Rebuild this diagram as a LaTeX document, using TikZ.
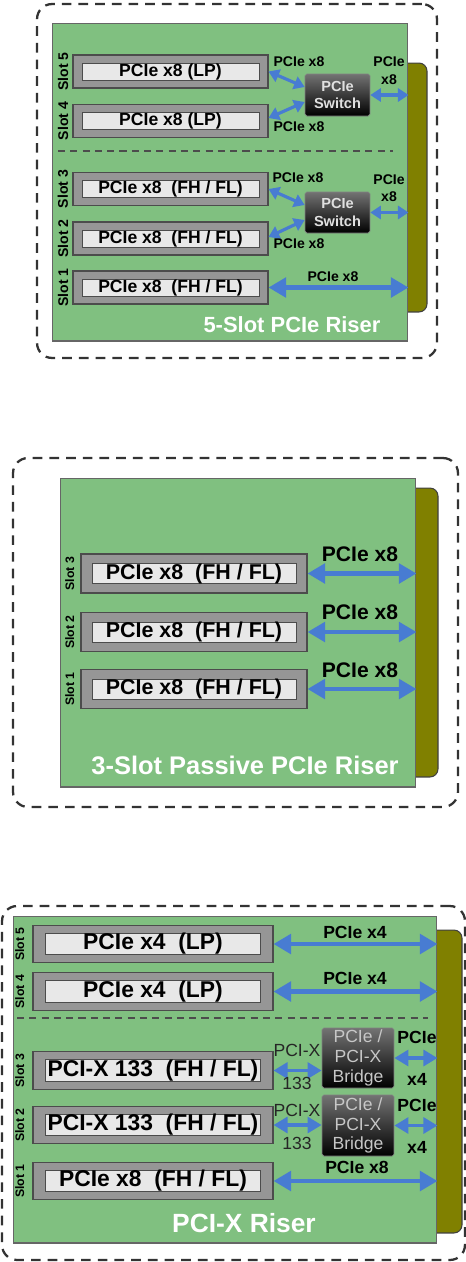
\documentclass[tikz,border=0pt]{standalone}
\usepackage{fontspec}
\setmainfont{Liberation Sans}
\usepackage{xcolor}
\usetikzlibrary{arrows.meta, positioning, calc}

\definecolor{boardgreen}{RGB}{128,192,128}
\definecolor{connolive}{RGB}{128,128,0}
\definecolor{linkblue}{RGB}{72,124,210}
\definecolor{slotgray}{RGB}{150,150,150}
\definecolor{cardgray}{RGB}{232,232,232}

\begin{document}
\begin{tikzpicture}[x=0.02cm, y=-0.02cm,
    frame/.style={draw=black!80, line width=1.3pt, dash pattern=on 5.5pt off 4pt, rounded corners=0.3cm, inner sep=0pt},
    board/.style={draw=black!60, fill=boardgreen, line width=0.6pt, inner sep=0pt},
    conn/.style={draw=black!75, fill=connolive, line width=0.6pt, rounded corners=0.16cm, inner sep=0pt},
    slotbox/.style={draw=black!70, fill=slotgray, line width=0.6pt, inner sep=0pt},
    card/.style={draw=black!70, fill=cardgray, line width=0.5pt, inner sep=0pt},
    slotlbl/.style={rotate=90, anchor=south, inner sep=0pt},
    chip/.style={draw=black!50, top color=black!55, middle color=black!88, bottom color=black, inner sep=0pt, align=center, text=black!12, rounded corners=1pt},
    link/.style={draw=linkblue, line width=2.5pt, {Triangle[width=11pt,length=10pt]}-{Triangle[width=11pt,length=10pt]}},
    midlink/.style={draw=linkblue, line width=2.2pt, {Triangle[width=9pt,length=8pt]}-{Triangle[width=9pt,length=8pt]}},
    minilink/.style={draw=linkblue, line width=1.8pt, {Triangle[width=7.5pt,length=6pt]}-{Triangle[width=7.5pt,length=6pt]}},
    lbl/.style={inner sep=0pt, align=center},
    title/.style={inner sep=0pt, text=white},
    sep/.style={draw=black!70, line width=0.7pt, dash pattern=on 4pt off 3pt}]
    \useasboundingbox (0,0) rectangle (466,1262);

    % 5-Slot PCIe riser
    \node[frame, minimum width=8cm, minimum height=7.08cm] (fr1) at (237,181) {};
    \node[conn, minimum width=0.64cm, minimum height=4.98cm] (cn1) at (411,187.5) {};
    \node[board, minimum width=7.12cm, minimum height=6.36cm] (bd1) at (230,182) {};
    \foreach \n/\y/\t in {5/71.5/{PCIe x8 (LP)}, 4/121/{PCIe x8 (LP)}, 3/189/{PCIe x8\ \ (FH / FL)},
                          2/238.5/{PCIe x8\ \ (FH / FL)}, 1/287.5/{PCIe x8\ \ (FH / FL)}} {
        \node[slotbox, minimum width=3.9cm, minimum height=0.66cm] (a\n) at (170.5,\y) {};
        \node[card, minimum width=3.54cm, minimum height=0.34cm, font=\bfseries\fontsize{10}{10}\selectfont] (a\n-card) at (a\n) {\t};
        \node[slotlbl, font=\bfseries\fontsize{8}{8}\selectfont] (a\n-lbl) at ([xshift=-0.08cm]a\n.west) {Slot \n};
    }
    \draw[sep] (58,151) -- (393,151);

    \node[chip, minimum width=1.3cm, minimum height=0.84cm, font=\bfseries\fontsize{8.3}{9.8}\selectfont] (sw1) at (337.5,95) {PCIe\\Switch};
    \node[chip, minimum width=1.3cm, minimum height=0.82cm, font=\bfseries\fontsize{8.3}{9.8}\selectfont] (sw2) at (337.5,212.5) {PCIe\\Switch};

    \draw[minilink] (a5.east) -- ([yshift=0.16cm]sw1.west);
    \draw[minilink] ([yshift=0.06cm]a4.east) -- ([yshift=-0.14cm]sw1.west);
    \draw[minilink] (sw1.east) -- (sw1.east -| bd1.east);
    \draw[minilink] (a3.east) -- ([yshift=0.15cm]sw2.west);
    \draw[minilink] ([yshift=0.03cm]a2.east) -- ([yshift=-0.15cm]sw2.west);
    \draw[minilink] (sw2.east) -- (sw2.east -| bd1.east);
    \draw[link] (a1.east) -- (a1.east -| bd1.east);

    \node[lbl, font=\bfseries\fontsize{8}{8}\selectfont] (l51) at (299,62) {PCIe x8};
    \node[lbl, font=\bfseries\fontsize{8}{8}\selectfont] (l41) at (299,127) {PCIe x8};
    \node[lbl, font=\bfseries\fontsize{8}{10.2}\selectfont] (l11) at (389,71) {PCIe\\x8};
    \node[lbl, font=\bfseries\fontsize{8}{8}\selectfont] (l31) at (298,178) {PCIe x8};
    \node[lbl, font=\bfseries\fontsize{8}{8}\selectfont] (l21) at (299,244) {PCIe x8};
    \node[lbl, font=\bfseries\fontsize{8}{9.6}\selectfont] (l12) at (389,188.5) {PCIe\\x8};
    \node[lbl, font=\bfseries\fontsize{8}{8}\selectfont] (l01) at (333,277) {PCIe x8};
    \node[title, font=\bfseries\fontsize{12.5}{12.5}\selectfont] (t1) at (292,325) {5-Slot PCIe Riser};

    % 3-Slot passive riser
    \node[frame, minimum width=8.9cm, minimum height=6.98cm] (fr2) at (235.5,632.5) {};
    \node[conn, minimum width=0.64cm, minimum height=5.78cm] (cn2) at (422,632.5) {};
    \node[board, minimum width=7.12cm, minimum height=6.18cm] (bd2) at (238,632.5) {};
    \foreach \n/\y/\ly in {3/573.5/554, 2/632/612, 1/689/670} {
        \node[slotbox, minimum width=4.52cm, minimum height=0.78cm] (b\n) at (194,\y) {};
        \node[card, minimum width=4.08cm, minimum height=0.38cm, font=\bfseries\fontsize{12.2}{12.2}\selectfont] (b\n-card) at (b\n) {PCIe x8\ \ (FH / FL)};
        \node[slotlbl, font=\bfseries\fontsize{7}{7}\selectfont] (b\n-lbl) at ([xshift=-0.12cm]b\n.west) {Slot \n};
        \draw[link] (b\n.east) -- (b\n.east -| bd2.east);
        \node[lbl, font=\bfseries\fontsize{12}{12}\selectfont] (b\n-link) at (360,\ly) {PCIe x8};
    }
    \node[title, font=\bfseries\fontsize{14.5}{14.5}\selectfont] (t2) at (245,765) {3-Slot Passive PCIe Riser};

    % PCI-X riser
    \node[frame, minimum width=9.26cm, minimum height=7.08cm] (fr3) at (233.5,1083) {};
    \node[conn, minimum width=0.7cm, minimum height=6.06cm] (cn3) at (444.5,1081.5) {};
    \node[board, minimum width=8.48cm, minimum height=6.54cm] (bd3) at (225,1079.5) {};
    \foreach \n/\y/\t in {5/944/{PCIe x4\ \ (LP)}, 4/991.5/{PCIe x4\ \ (LP)}, 3/1070.5/{PCI-X 133\ \ (FH / FL)},
                          2/1125/{PCI-X 133\ \ (FH / FL)}, 1/1181/{PCIe x8\ \ (FH / FL)}} {
        \node[slotbox, minimum width=4.8cm, minimum height=0.75cm] (c\n) at (153,\y) {};
        \node[card, minimum width=4.3cm, minimum height=0.36cm, font=\bfseries\fontsize{13}{13}\selectfont] (c\n-card) at (c\n) {\t};
        \node[slotlbl, font=\bfseries\fontsize{7}{7}\selectfont] (c\n-lbl) at ([xshift=-0.16cm]c\n.west) {Slot \n};
    }
    \draw[sep] (17,1018) -- (428,1018);

    \node[chip, minimum width=1.44cm, minimum height=1.2cm, font=\fontsize{10}{11.3}\selectfont, text=black!22] (br1) at (358,1058) {PCIe /\\PCI-X\\Bridge};
    \node[chip, minimum width=1.44cm, minimum height=1.22cm, font=\fontsize{10}{11.3}\selectfont, text=black!22] (br2) at (358,1125.5) {PCIe /\\PCI-X\\Bridge};

    \draw[link] (c5.east) -- (c5.east -| bd3.east);
    \draw[link] (c4.east) -- (c4.east -| bd3.east);
    \draw[midlink] (c3.east) -- (c3.east -| br1.west);
    \draw[midlink] (br1.east) -- (br1.east -| bd3.east);
    \draw[midlink] (c2.east) -- (c2.east -| br2.west);
    \draw[midlink] (br2.east) -- (br2.east -| bd3.east);
    \draw[link] (c1.east) -- (c1.east -| bd3.east);

    \node[lbl, font=\bfseries\fontsize{10}{10}\selectfont] (l5c) at (355,932) {PCIe x4};
    \node[lbl, font=\bfseries\fontsize{10}{10}\selectfont] (l4c) at (355,978) {PCIe x4};
    \node[lbl, font=\fontsize{10}{10}\selectfont, text=black!85] (l3a) at (297,1050) {PCI-X};
    \node[lbl, font=\fontsize{10}{10}\selectfont, text=black!85] (l3b) at (297,1083) {133};
    \node[lbl, font=\fontsize{10}{10}\selectfont, text=black!85] (l2a) at (297,1110) {PCI-X};
    \node[lbl, font=\fontsize{10}{10}\selectfont, text=black!85] (l2b) at (297,1143) {133};
    \node[lbl, font=\bfseries\fontsize{10}{10}\selectfont] (r1a) at (417,1037) {PCIe};
    \node[lbl, font=\bfseries\fontsize{10}{10}\selectfont] (r1b) at (417,1079) {x4};
    \node[lbl, font=\bfseries\fontsize{10}{10}\selectfont] (r2a) at (417,1105) {PCIe};
    \node[lbl, font=\bfseries\fontsize{10}{10}\selectfont] (r2b) at (417,1147) {x4};
    \node[lbl, font=\bfseries\fontsize{10}{10}\selectfont] (l1c) at (357,1167) {PCIe x8};
    \node[title, font=\bfseries\fontsize{15}{15}\selectfont] (t3) at (244,1223) {PCI-X Riser};
\end{tikzpicture}
\end{document}
